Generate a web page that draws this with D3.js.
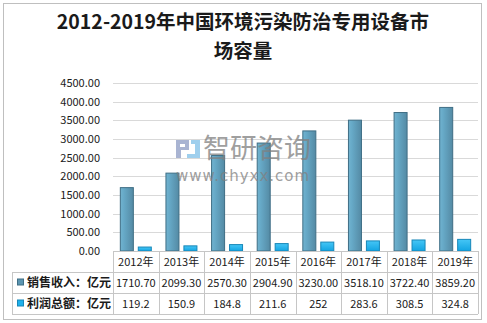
<!DOCTYPE html>
<html>
<head>
<meta charset="utf-8">
<script src="https://cdn.jsdelivr.net/npm/d3@7/dist/d3.min.js"></script>
<style>
  html, body { margin: 0; padding: 0; background: #fff; }
  svg { display: block; }
  text { font-family: "Noto Sans CJK SC", "Noto Sans", sans-serif; fill: #1a1a1a; }
</style>
</head>
<body>
<svg id="chart" width="487" height="323"></svg>
<script>
// Data
const years = ["2012年", "2013年", "2014年", "2015年", "2016年", "2017年", "2018年", "2019年"];
const revenue = [1710.70, 2099.30, 2570.30, 2904.90, 3230.00, 3518.10, 3722.40, 3859.20];
const profit = [119.2, 150.9, 184.8, 211.6, 252, 283.6, 308.5, 324.8];
const revenueLabels = ["1710.70", "2099.30", "2570.30", "2904.90", "3230.00", "3518.10", "3722.40", "3859.20"];
const profitLabels = ["119.2", "150.9", "184.8", "211.6", "252", "283.6", "308.5", "324.8"];
const yTicks = [0, 500, 1000, 1500, 2000, 2500, 3000, 3500, 4000, 4500];
const seriesNames = ["销售收入：亿元", "利润总额：亿元"];
const titleLines = ["2012-2019年中国环境污染防治专用设备市", "场容量"];

const svg = d3.select("#chart");

// Outer frame
svg.append("rect").attr("x", 3.5).attr("y", 3.5).attr("width", 478).attr("height", 316)
  .attr("fill", "#fff").attr("stroke", "#bfbfbf").attr("stroke-width", 1);

// Title
svg.append("g").selectAll("text").data(titleLines).join("text")
  .attr("x", 243).attr("y", (d, i) => 29 + i * 29)
  .attr("text-anchor", "middle")
  .style("font-size", "19.5px").style("font-weight", "bold")
  .text(d => d);

// Layout
const plotLeft = 113, plotRight = 478, plotTop = 83, plotBottom = 251;
const x0 = d3.scaleBand().domain(years).range([plotLeft, plotRight]);
const x1 = d3.scaleBand().domain(["rev", "pro"]).range([0, x0.bandwidth()])
  .paddingInner(0.22).paddingOuter(0.38);
const y = d3.scaleLinear().domain([0, 4500]).range([plotBottom, plotTop]);

// Gradients
const defs = svg.append("defs");
const g1 = defs.append("linearGradient").attr("id", "gRev").attr("x1", 0).attr("y1", 0).attr("x2", 1).attr("y2", 0);
g1.append("stop").attr("offset", "0").attr("stop-color", "#72b3cf");
g1.append("stop").attr("offset", "0.25").attr("stop-color", "#67aac8");
g1.append("stop").attr("offset", "1").attr("stop-color", "#548aa4");
const g2 = defs.append("linearGradient").attr("id", "gPro").attr("x1", 0).attr("y1", 0).attr("x2", 0).attr("y2", 1);
g2.append("stop").attr("offset", "0").attr("stop-color", "#45c6f6");
g2.append("stop").attr("offset", "1").attr("stop-color", "#12a4e2");

// Gridlines and y axis labels
const yAxis = d3.axisLeft(y).tickValues(yTicks).tickFormat(d => d3.format(".2f")(d))
  .tickSize(0).tickPadding(13);
const ax = svg.append("g").attr("transform", `translate(${plotLeft},0)`).call(yAxis);
ax.select(".domain").remove();
ax.selectAll("text").style("font-size", "11px").style("font-family", "'Noto Sans CJK SC', sans-serif").attr("fill", "#1a1a1a");

svg.append("g").selectAll("line").data(yTicks.filter(d => d > 0)).join("line")
  .attr("x1", plotLeft).attr("x2", plotRight)
  .attr("y1", d => Math.round(y(d)) + 0.5).attr("y2", d => Math.round(y(d)) + 0.5)
  .attr("stroke", "#d9d9d9").attr("stroke-width", 1);

// Bars
const groups = svg.append("g").selectAll("g").data(years).join("g")
  .attr("transform", d => `translate(${x0(d)},0)`);
groups.append("rect")
  .attr("x", x1("rev") + 0.5).attr("width", x1.bandwidth() - 1)
  .attr("y", (d, i) => y(revenue[i]) + 0.5)
  .attr("height", (d, i) => y(0) - y(revenue[i]) - 0.5)
  .attr("fill", "url(#gRev)").attr("stroke", "#3f6e85").attr("stroke-width", 1);
groups.append("rect")
  .attr("x", x1("pro") + 0.5).attr("width", x1.bandwidth() - 1)
  .attr("y", (d, i) => y(profit[i]) + 0.5)
  .attr("height", (d, i) => y(0) - y(profit[i]) - 0.5)
  .attr("fill", "url(#gPro)").attr("stroke", "#1787b8").attr("stroke-width", 1);

// Watermark, laid over the bars
const wm = svg.append("g").attr("opacity", 0.75);
wm.append("path").attr("d", "M176,140 h13 v10 h-8 v8 h-5 z M180,144 v3 h5 v-3 z").attr("fill", "#8d9cc4");
wm.append("path").attr("d", "M191,140 h9 v18 h-13 v-4 h8 v-10 h-4 z").attr("fill", "#7fc0e8");
wm.append("text").attr("x", 203).attr("y", 158).style("font-size", "27px")
  .style("fill", "#808080").text("智研咨询");
wm.append("text").attr("x", 176).attr("y", 181).style("font-size", "15px")
  .style("font-family", "'DejaVu Sans', sans-serif").style("fill", "#808080")
  .attr("textLength", 133).text("www.chyxx.com");

// Data table
const rowH = 21;
const tableTop = plotBottom, tableLeft = 12;
const lineCol = "#c6c6c6";
const tbl = svg.append("g");
tbl.append("line").attr("x1", plotLeft).attr("x2", plotRight).attr("y1", tableTop + 0.5).attr("y2", tableTop + 0.5).attr("stroke", lineCol);
[1, 2, 3].forEach(r => {
  tbl.append("line").attr("x1", tableLeft).attr("x2", plotRight)
    .attr("y1", tableTop + r * rowH + 0.5).attr("y2", tableTop + r * rowH + 0.5).attr("stroke", lineCol);
});
tbl.append("line").attr("x1", tableLeft + 0.5).attr("x2", tableLeft + 0.5)
  .attr("y1", tableTop + rowH).attr("y2", tableTop + 3 * rowH).attr("stroke", lineCol);
years.forEach(yr => {
  const xx = Math.round(x0(yr)) + 0.5;
  tbl.append("line").attr("x1", xx).attr("x2", xx).attr("y1", tableTop).attr("y2", tableTop + 3 * rowH).attr("stroke", lineCol);
});
tbl.append("line").attr("x1", plotRight + 0.5).attr("x2", plotRight + 0.5)
  .attr("y1", tableTop).attr("y2", tableTop + 3 * rowH).attr("stroke", lineCol);

// header labels
tbl.selectAll("text.hdr").data(years).join("text").attr("class", "hdr")
  .attr("x", d => x0(d) + x0.bandwidth() / 2).attr("y", tableTop + 15)
  .attr("text-anchor", "middle").style("font-size", "11px").text(d => d);
// values
[revenueLabels, profitLabels].forEach((labels, r) => {
  tbl.selectAll("text.v" + r).data(labels).join("text").attr("class", "v" + r)
    .attr("x", (d, i) => x0(years[i]) + x0.bandwidth() / 2)
    .attr("y", tableTop + (r + 1) * rowH + 15)
    .attr("text-anchor", "middle").style("font-size", "11px").text(d => d);
});
// legend keys + series names
const keyFills = ["#5b95b1", "#1fb1ec"];
const keyStrokes = ["#3f6e85", "#1787b8"];
seriesNames.forEach((nm, r) => {
  const cy = tableTop + (r + 1) * rowH + rowH / 2;
  tbl.append("rect").attr("x", 17.5).attr("y", cy - 3.5).attr("width", 6).attr("height", 6)
    .attr("fill", keyFills[r]).attr("stroke", keyStrokes[r]);
  tbl.append("text").attr("x", 27).attr("y", cy + 4.5).style("font-size", "12px")
    .style("font-weight", "bold").text(nm);
});
</script>
</body>
</html>
